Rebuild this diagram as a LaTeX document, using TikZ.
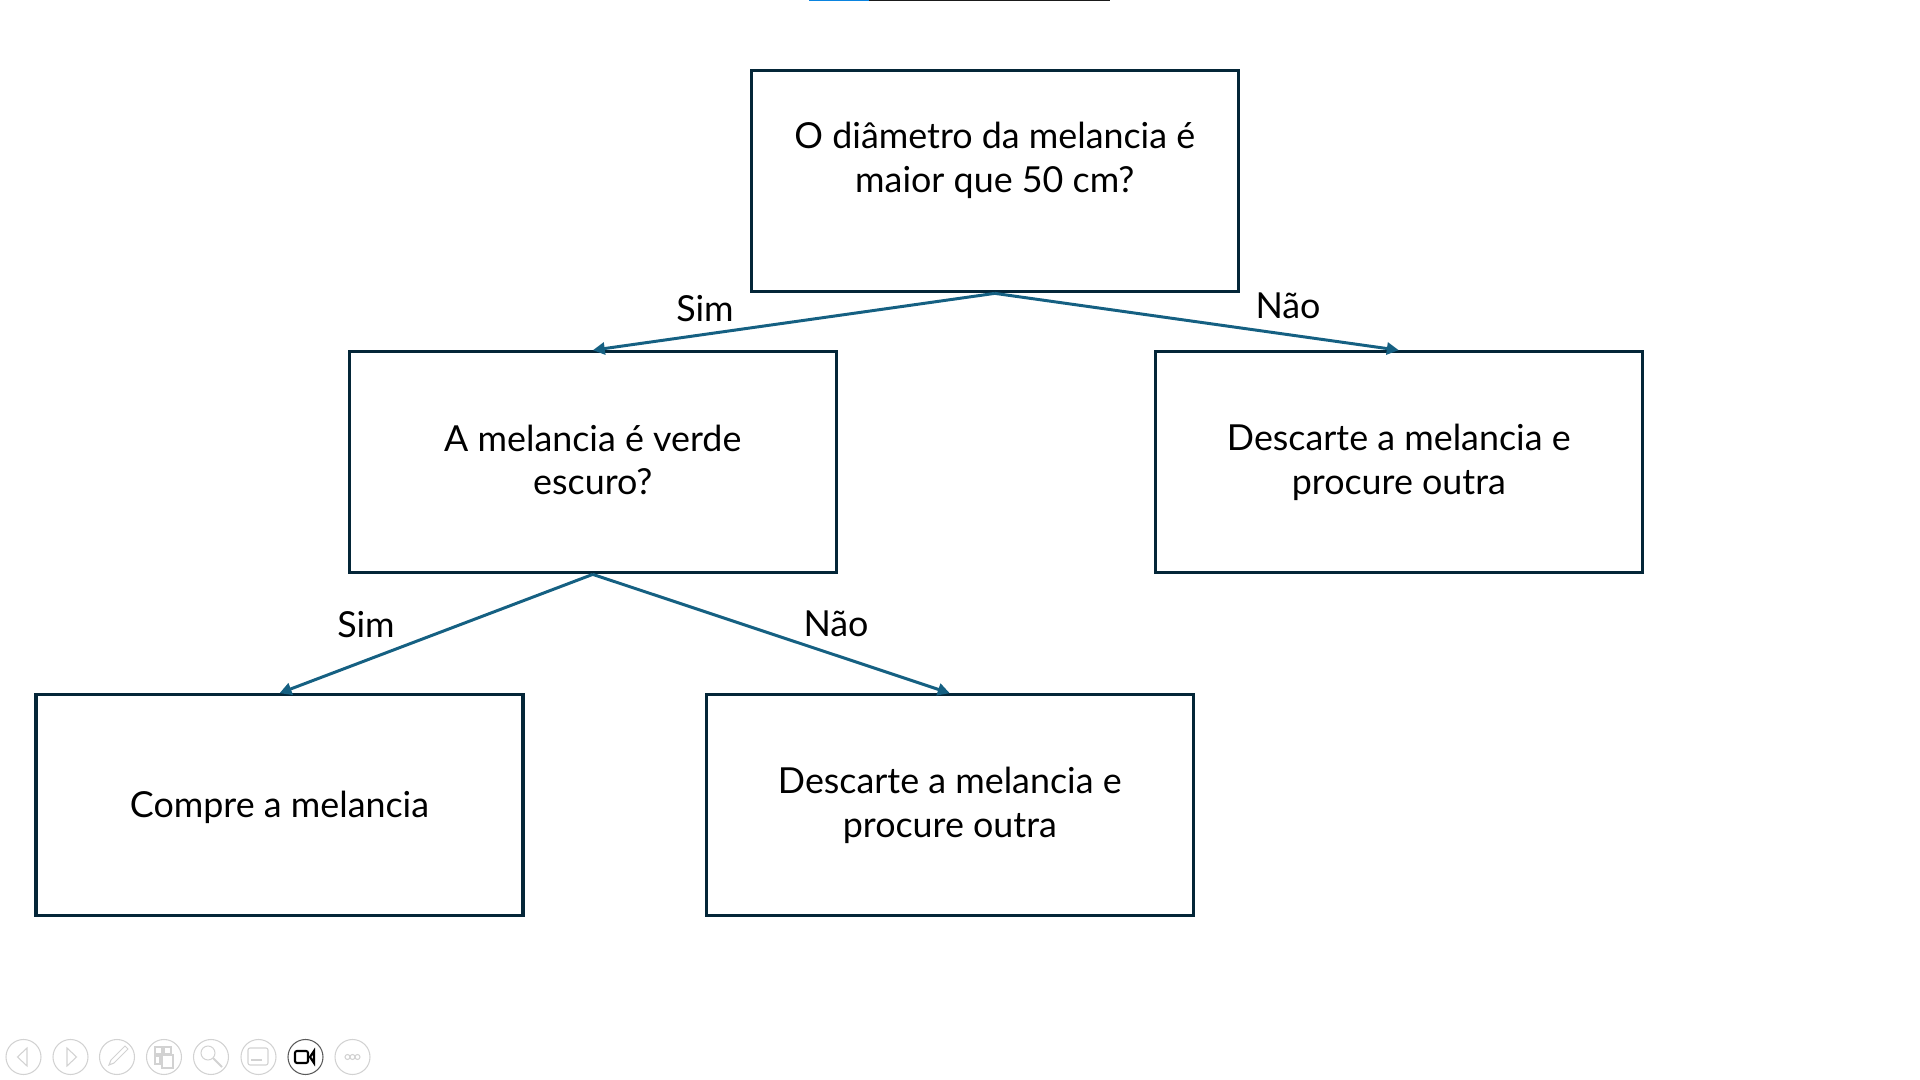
\documentclass[tikz,border=0pt]{standalone}
\usepackage{fontspec}
\setmainfont{Lato}
\usepackage{xcolor}
\usetikzlibrary{arrows.meta}
\definecolor{box-navy}{HTML}{042638}
\definecolor{link-teal}{HTML}{156082}
\definecolor{bar-blue}{HTML}{0A84E0}
\definecolor{bar-dark}{HTML}{1A1A1A}
\definecolor{icon-light}{HTML}{D2D2D2}
\definecolor{icon-ring}{HTML}{5A5A5A}
\newcommand{\boxstrut}{\rule[-1.35pt]{0pt}{12.4pt}}

\begin{document}
\begin{tikzpicture}[every node/.style={font=\fontsize{10.2}{12.4}\selectfont, text=black},
    box/.style={draw=box-navy, line width=0.9pt, minimum width=4.87cm, minimum height=2.21cm, align=center, inner sep=0pt,
      execute at begin node=\boxstrut, execute at end node=\boxstrut},
    link/.style={draw=link-teal, line width=0.85pt, -{Triangle[length=1.2mm, width=1.2mm]}},
    iconline/.style={draw=icon-light, line width=0.3pt}]
  \useasboundingbox (0,0) rectangle (19.2,10.8);
  \draw[line width=0.45pt, color=bar-blue] (8.09,10.795) -- (8.69,10.795);
  \draw[line width=0.45pt, color=bar-dark] (8.69,10.795) -- (11.10,10.795);
  \node[box] (root) at (9.948,8.987) {O diâmetro da melancia é\\maior que 50 cm?\\~};
  \node[box] (green) at (5.928,6.177) {A melancia é verde\\escuro?};
  \node[box] (discardtop) at (13.988,6.177) {Descarte a melancia e\\procure outra};
  \node[box] (buy) at (2.795,2.747) {Compre a melancia\rule[-4.1pt]{0pt}{4.1pt}};
  \node[box] (discardlow) at (9.498,2.747) {Descarte a melancia e\\procure outra};
  \draw[link] (root.south) -- (green.north);
  \draw[link] (root.south) -- (discardtop.north);
  \draw[link] (green.south) -- (buy.north);
  \draw[link] (green.south) -- (discardlow.north);
  \node (simtop) at (7.05,7.71) {Sim};
  \node (naotop) at (12.88,7.74) {Não};
  \node (simlow) at (3.66,4.55) {Sim};
  \node (naolow) at (8.36,4.565) {Não};
  % toolbar
  \foreach \xpos in {0.235,0.705,1.17,1.64,2.11,2.585,3.525}
    \draw[iconline] (\xpos,0.23) circle (0.175);
  \draw[line width=0.3pt, color=icon-ring] (3.055,0.23) circle (0.175);
  \draw[iconline] (0.27,0.32) -- (0.175,0.23) -- (0.27,0.14) -- cycle;
  \draw[iconline] (0.67,0.32) -- (0.765,0.23) -- (0.67,0.14) -- cycle;
  \draw[iconline] (1.09,0.15) -- (1.11,0.20) -- (1.25,0.34) -- (1.28,0.31) -- (1.14,0.17) -- cycle;
  \draw[iconline] (1.55,0.26) rectangle (1.62,0.33);
  \draw[iconline] (1.64,0.26) rectangle (1.71,0.33);
  \draw[iconline] (1.55,0.16) rectangle (1.60,0.24);
  \draw[iconline] (1.62,0.12) rectangle (1.73,0.25);
  \draw[iconline] (2.08,0.27) circle (0.07);
  \draw[iconline, line width=0.6pt] (2.13,0.22) -- (2.22,0.13);
  \draw[iconline, rounded corners=0.02cm] (2.48,0.15) rectangle (2.68,0.32);
  \draw[iconline, dashed] (2.51,0.20) -- (2.65,0.20);
  \draw[line width=0.6pt, color=black, rounded corners=0.02cm] (2.95,0.17) rectangle (3.08,0.29);
  \draw[line width=0.6pt, color=black] (3.10,0.23) -- (3.14,0.29) -- (3.14,0.17) -- cycle;
  \foreach \xpos in {3.475,3.525,3.575}
    \draw[iconline] (\xpos,0.23) circle (0.025);
\end{tikzpicture}
\end{document}
